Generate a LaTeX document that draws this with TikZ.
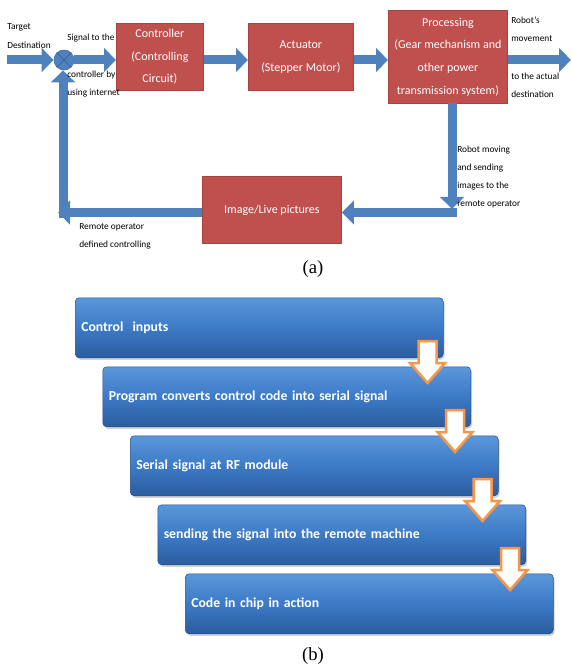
\documentclass[tikz,border=0pt]{standalone}
\usepackage{fontspec}
\setmainfont{Carlito}
\newfontfamily\capfont{Liberation Serif}
\usetikzlibrary{arrows.meta,shadows}
\definecolor{redfill}{HTML}{C0504D}
\definecolor{redline}{HTML}{A9433F}
\definecolor{bluearr}{HTML}{4F81BD}
\definecolor{bluedark}{HTML}{3B6AA0}
\definecolor{btop}{HTML}{5A97DA}
\definecolor{bmid}{HTML}{3D7AC6}
\definecolor{bbot}{HTML}{2B5C9F}
\definecolor{orng}{HTML}{F79646}
\begin{document}
\begin{tikzpicture}[x=0.75pt,y=-0.75pt,
 redbox/.style={draw=redline, line width=0.6pt, fill=redfill, text=white, anchor=north west, align=center, inner sep=0pt, font=\fontsize{9}{17}\selectfont},
 fat/.style={draw=bluearr, line width=6.75pt, -{Triangle[length=9pt,width=17.5pt]}},
 lbl/.style={anchor=west, align=left, inner sep=0pt, font=\fontsize{7}{13.6}\selectfont},
 bluebox/.style={anchor=north west, rounded corners=3pt, minimum width=276pt, minimum height=45pt, text width=267pt, inner xsep=4.5pt, align=left, text=white, top color=btop, bottom color=bbot, middle color=bmid, draw=bbot!85!black, line width=0.4pt, drop shadow={shadow xshift=1pt, shadow yshift=-1.5pt, opacity=0.35}, font=\bfseries\fontsize{10.3}{12}\selectfont},
 oarr/.style={draw=orng, line width=1.9pt, fill=white, line join=miter},
 captext/.style={font=\capfont\fontsize{14}{16}\selectfont, inner sep=0pt},
]
\useasboundingbox (0,0) rectangle (572,670);

% ---------- (a) ----------
\node[redbox, minimum width=65.25pt, minimum height=50.25pt] (ctrl) at (116,23) {Controller\\(Controlling\\Circuit)};
\node[redbox, minimum width=78.75pt, minimum height=50.25pt] (act) at (248,23) {Actuator\\(Stepper Motor)};
\node[redbox, minimum width=89.25pt, minimum height=69.75pt] (proc) at (388,10) {Processing\\(Gear mechanism and\\other power\\transmission system)};
\node[redbox, minimum width=104.25pt, minimum height=50.25pt, font=\fontsize{9}{11}\selectfont] (img) at (202,176) {Image/Live pictures};

\node[circle, draw=bluedark, fill=bluearr, minimum size=15pt, inner sep=0pt] (sum) at (64,60) {};
\coordinate (in) at (7,60);
\coordinate (out) at (571,60);
\coordinate (rtop) at (452,103);
\coordinate (rdown) at (452,209);
\coordinate (rcorner) at (456.5,212.5);
\coordinate (lcorner) at (58,212.5);
\coordinate (lbottom) at (63,218);

\draw[fat] (in) -- (sum.west);
\draw[fat] (sum.east) -- (sum.east -| ctrl.west);
\draw[fat] (ctrl.east |- sum) -- (sum -| act.west);
\draw[fat] (act.east |- sum) -- (sum -| proc.west);
\draw[fat] (proc.east |- sum) -- (out);
\draw[fat] (rtop) -- (rdown);
\draw[fat] (rcorner) -- (rcorner -| img.east);
\draw[fat] (lcorner -| img.west) -- (lcorner);
\draw[fat] (lbottom) -- (lbottom |- sum.south);
\draw[bluedark, line width=0.6pt] (sum.north west) -- (sum.south east) (sum.north east) -- (sum.south west);

\node[lbl] (ltarget) at (7,36) {Target\\Destination};
\node[lbl] (lsig) at (67,38) {Signal to the};
\node[lbl] (lctrl) at (67,84) {controller by\\using internet};
\node[lbl] (lrob) at (511,29) {Robot’s\\movement};
\node[lbl] (ldest) at (511,85) {to the actual\\destination};
\node[lbl] (lmov) at (457,177) {Robot moving\\and sending\\images to the\\remote operator};
\node[lbl] (lrem) at (79,236) {Remote operator\\defined controlling};

\node[captext] (capa) at (313,269) {(a)};

% ---------- (b) ----------
\node[bluebox] (b1) at (75,297.5) {Control\ \ inputs};
\node[bluebox] (b2) at (102.5,366.5) {Program converts control code into serial signal};
\node[bluebox] (b3) at (130,435.5) {Serial signal at RF module};
\node[bluebox] (b4) at (157.5,504.5) {sending the signal into the remote machine};
\node[bluebox] (b5) at (185,573.5) {Code in chip in action};

\foreach \b in {b1,b2,b3,b4}{
  \draw[oarr] ([shift={(-25,-17)}]\b.south east) -- ++(18,0) -- ++(0,22) -- ++(8.5,0) -- ++(-17.5,20) -- ++(-17.5,-20) -- ++(8.5,0) -- cycle;
}

\node[captext] (capb) at (313,656) {(b)};
\end{tikzpicture}
\end{document}
